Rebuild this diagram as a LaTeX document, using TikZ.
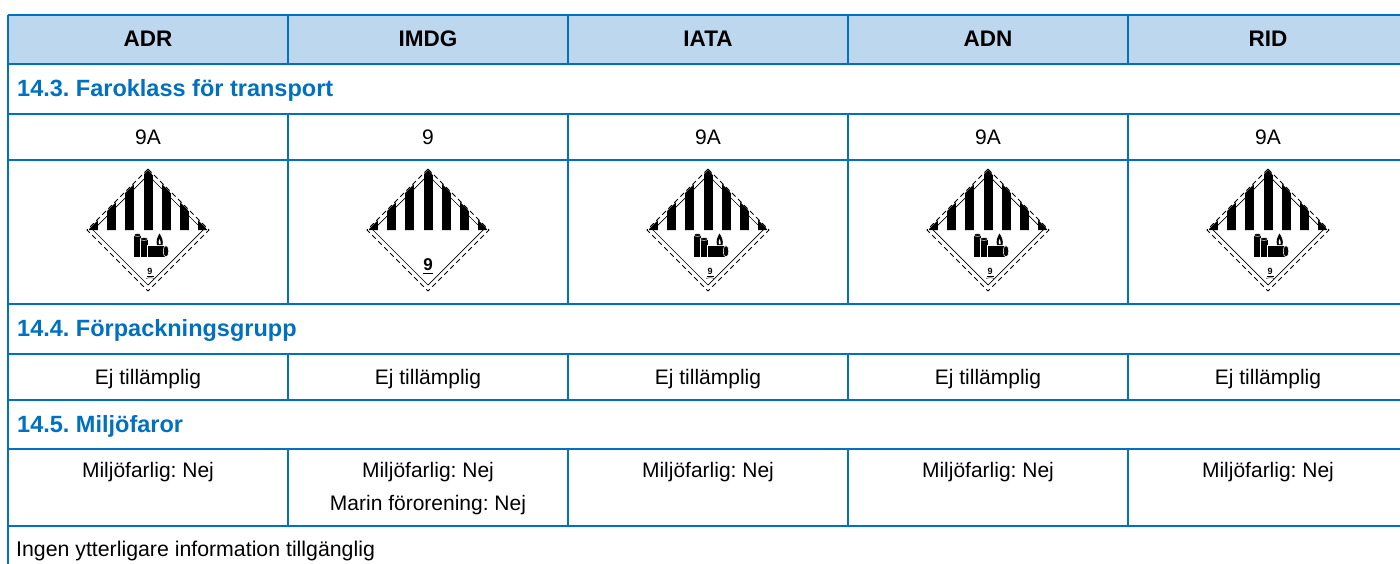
\documentclass[tikz,border=0pt]{standalone}
\usepackage{fontspec}
\setmainfont{Liberation Sans}
\frenchspacing
\definecolor{tblue}{RGB}{0,112,192}
\definecolor{hfill}{RGB}{189,215,238}
\tikzset{
  gridline/.style={draw=tblue,line width=1.5pt},
  hdr/.style={font=\fontsize{22.5}{27}\selectfont\bfseries,anchor=base,inner sep=0pt},
  sec/.style={font=\fontsize{23.5}{27}\selectfont\bfseries,text=tblue,anchor=base west,inner sep=0pt},
  cell/.style={font=\fontsize{21}{33}\selectfont,anchor=base,inner sep=0pt},
  cellleft/.style={font=\fontsize{21.3}{33}\selectfont,anchor=base west,inner sep=0pt},
  labelbase/.pic={
    \begin{scope}
      \clip (-60,0) -- (0,-60) -- (60,0) -- cycle;
      \foreach \k in {-3,...,3} \fill (18.3*\k-4.5,1) rectangle (18.3*\k+4.5,-62);
    \end{scope}
    \draw[line width=0.7pt] (0,-55) -- (55,0) -- (0,55) -- (-55,0) -- cycle;
    \draw[line width=1pt,dash pattern=on 5pt off 3.5pt] (0,-61) -- (61,0) -- (0,61) -- (-61,0) -- cycle;
  },
  classnine/.pic={
    \pic {labelbase};
    \node[font=\fontsize{17}{17}\selectfont\bfseries,anchor=base,inner sep=0pt] (-nine) at (0,40) {9};
    \draw[line width=1.3pt] (-5,43.5) -- (5,43.5);
  },
  classninea/.pic={
    \pic {labelbase};
    % batteries
    \fill (-14,5) rectangle (-7,27);
    \fill[draw=white,line width=0.5pt] (-10.5,5) ellipse (3.5 and 1.4);
    \fill[draw=white,line width=0.6pt] (-8,9) rectangle (0,27);
    \fill[draw=white,line width=0.5pt] (-4,9) ellipse (4 and 1.4);
    \fill[draw=white,line width=0.6pt] (-0.5,15.5) rectangle (18,27);
    \fill[draw=white,line width=0.6pt] (18,21.25) ellipse (2.8 and 5.75);
    \fill (11.5,3.5) .. controls (9,7.5) and (8,11) .. (9,15) -- (14.5,15) .. controls (15.5,11) and (14,7.5) .. (11.5,3.5) -- cycle;
    \fill[white] (11.5,9) .. controls (10.5,11) and (10.5,12.5) .. (11,14) -- (12.5,14) .. controls (13,12.5) and (12.5,11) .. (11.5,9) -- cycle;
    \node[font=\fontsize{9}{9}\selectfont\bfseries,anchor=base,inner sep=0pt] (-nine) at (2,44) {9};
    \draw[line width=0.6pt] (-1.5,46) -- (5.5,46);
    \draw[line width=0.4pt] (-2,48.5) .. controls (0,47.5) and (4,47.5) .. (6,48.5);
  }
}
\begin{document}
\begin{tikzpicture}[x=1pt,y=-1pt]
\useasboundingbox (0,0) rectangle (1400,563);
\clip (0,0) rectangle (1400,563);
\fill[white] (0,0) rectangle (1400,563);
% header fill
\fill[hfill] (8,15) rectangle (1410,64);
% horizontal lines
\foreach \y in {15,64,114,160,304,354,400,449,526}
  \draw[gridline] (8,\y) -- (1410,\y);
% outer verticals
\draw[gridline] (8,15) -- (8,570);
\draw[gridline] (1408,15) -- (1408,570);
% inner verticals
\foreach \x in {288,568,848,1128} {
  \draw[gridline] (\x,15) -- (\x,64);
  \draw[gridline] (\x,114) -- (\x,304);
  \draw[gridline] (\x,354) -- (\x,400);
  \draw[gridline] (\x,449) -- (\x,526);
}
% header
\node[hdr] (h1) at (148,46) {ADR};
\node[hdr] (h2) at (428,46) {IMDG};
\node[hdr] (h3) at (708,46) {IATA};
\node[hdr] (h4) at (988,46) {ADN};
\node[hdr] (h5) at (1268,46) {RID};
% 14.3
\node[sec] (s1) at (17,96) {14.3. Faroklass för transport};
\node[cell] (c1) at (148,144) {9A};
\node[cell] (c2) at (428,144) {9};
\node[cell] (c3) at (708,144) {9A};
\node[cell] (c4) at (988,144) {9A};
\node[cell] (c5) at (1268,144) {9A};
\pic (p1) at (148,230) {classninea};
\pic (p2) at (428,230) {classnine};
\pic (p3) at (708,230) {classninea};
\pic (p4) at (988,230) {classninea};
\pic (p5) at (1268,230) {classninea};
% 14.4
\node[sec] (s2) at (17,336) {14.4. Förpackningsgrupp};
\node[cell] (e1) at (148,384) {Ej tillämplig};
\node[cell] (e2) at (428,384) {Ej tillämplig};
\node[cell] (e3) at (708,384) {Ej tillämplig};
\node[cell] (e4) at (988,384) {Ej tillämplig};
\node[cell] (e5) at (1268,384) {Ej tillämplig};
% 14.5
\node[sec] (s3) at (17,432) {14.5. Miljöfaror};
\node[cell] (m1) at (148,477) {Miljöfarlig: Nej};
\node[cell] (m2) at (428,477) {Miljöfarlig: Nej};
\node[cell] (m2b) at (428,510) {Marin förorening: Nej};
\node[cell] (m3) at (708,477) {Miljöfarlig: Nej};
\node[cell] (m4) at (988,477) {Miljöfarlig: Nej};
\node[cell] (m5) at (1268,477) {Miljöfarlig: Nej};
% footer
\node[cellleft] (f1) at (16,556) {Ingen ytterligare information tillgänglig};
\end{tikzpicture}
\end{document}
